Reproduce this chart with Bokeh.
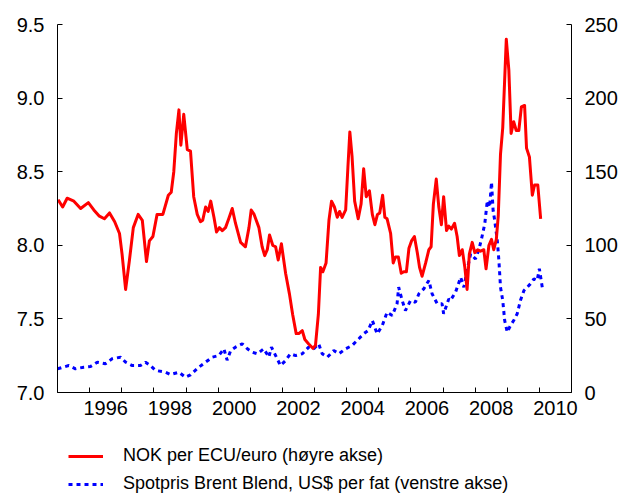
from bokeh.plotting import figure
from bokeh.models import (Range1d, LinearAxis, FixedTicker, Legend, LegendItem,
                          NumeralTickFormatter)
from bokeh.layouts import column
from bokeh.embed import file_html
from bokeh.resources import INLINE

# NOK per ECU/euro (plotted on left axis scale 7.0-9.5)
nok_t = [1995.02, 1995.16, 1995.30, 1995.51, 1995.72, 1995.96, 1996.13, 1996.29, 1996.46, 1996.62,
         1996.78, 1996.93, 1997.01, 1997.12, 1997.24, 1997.36, 1997.51, 1997.64, 1997.77, 1997.86,
         1997.97, 1998.10, 1998.28, 1998.45, 1998.54, 1998.62, 1998.70, 1998.78, 1998.84, 1998.93,
         1999.04, 1999.14, 1999.24, 1999.35, 1999.45, 1999.52, 1999.61, 1999.69, 1999.77, 1999.87,
         1999.95, 2000.04, 2000.13, 2000.23, 2000.33, 2000.44, 2000.54, 2000.70, 2000.85, 2000.96,
         2001.03, 2001.12, 2001.27, 2001.37, 2001.45, 2001.53, 2001.60, 2001.70, 2001.79, 2001.87,
         2001.97, 2002.10, 2002.22, 2002.32, 2002.43, 2002.51, 2002.62, 2002.70, 2002.82, 2002.95,
         2003.03, 2003.12, 2003.19, 2003.26, 2003.36, 2003.45, 2003.53, 2003.62, 2003.71, 2003.78,
         2003.86, 2003.97, 2004.04, 2004.10, 2004.17, 2004.25, 2004.36, 2004.45, 2004.53, 2004.61,
         2004.71, 2004.80, 2004.88, 2004.96, 2005.03, 2005.12, 2005.19, 2005.26, 2005.37, 2005.45,
         2005.52, 2005.61, 2005.70, 2005.78, 2005.86, 2005.94, 2006.02, 2006.11, 2006.20, 2006.27,
         2006.35, 2006.46, 2006.56, 2006.63, 2006.70, 2006.79, 2006.87, 2006.95, 2007.02, 2007.11,
         2007.18, 2007.26, 2007.36, 2007.44, 2007.51, 2007.60, 2007.68, 2007.75, 2007.82, 2007.91,
         2007.99, 2008.08, 2008.17, 2008.27, 2008.34, 2008.43, 2008.51, 2008.58, 2008.66, 2008.72,
         2008.79, 2008.86, 2008.97, 2009.05, 2009.12, 2009.20, 2009.28, 2009.36, 2009.44, 2009.54,
         2009.60, 2009.69, 2009.78, 2009.85, 2009.95, 2010.04]
nok_v = [8.31, 8.26, 8.32, 8.30, 8.25, 8.29, 8.24, 8.20, 8.18, 8.22,
         8.16, 8.08, 7.94, 7.70, 7.90, 8.12, 8.21, 8.17, 7.89, 8.03,
         8.06, 8.21, 8.21, 8.34, 8.36, 8.50, 8.76, 8.92, 8.68, 8.89,
         8.65, 8.64, 8.33, 8.21, 8.16, 8.17, 8.26, 8.23, 8.30, 8.19,
         8.09, 8.12, 8.10, 8.12, 8.18, 8.25, 8.15, 8.02, 7.99, 8.12,
         8.24, 8.21, 8.12, 7.99, 7.93, 7.97, 8.07, 8.00, 7.99, 7.90,
         8.01, 7.81, 7.67, 7.53, 7.40, 7.40, 7.42, 7.36, 7.33, 7.30,
         7.32, 7.53, 7.85, 7.82, 7.88, 8.17, 8.30, 8.26, 8.19, 8.23,
         8.19, 8.24, 8.53, 8.77, 8.60, 8.30, 8.18, 8.28, 8.52, 8.33,
         8.37, 8.21, 8.14, 8.21, 8.22, 8.34, 8.19, 8.18, 8.08, 7.88,
         7.92, 7.92, 7.81, 7.82, 7.82, 7.98, 8.03, 8.06, 7.95, 7.85,
         7.79, 7.88, 7.97, 7.99, 8.28, 8.45, 8.26, 8.14, 8.33, 8.10,
         8.13, 8.11, 8.15, 8.06, 7.93, 7.97, 7.85, 7.70, 7.94, 8.02,
         7.95, 7.97, 7.96, 7.97, 7.84, 8.00, 8.04, 7.97, 8.04, 8.20,
         8.62, 8.80, 9.40, 9.19, 8.76, 8.84, 8.78, 8.78, 8.94, 8.95,
         8.66, 8.60, 8.34, 8.41, 8.41, 8.18]

# Spot price Brent Blend, USD per barrel (plotted on right axis scale 0-250)
oil_t = [1995.00, 1995.35, 1995.56, 1995.82, 1996.03, 1996.24, 1996.49, 1996.70, 1996.96, 1997.12,
         1997.33, 1997.58, 1997.74, 1997.89, 1998.05, 1998.36, 1998.52, 1998.78, 1998.98, 1999.14,
         1999.40, 1999.61, 1999.82, 2000.02, 2000.18, 2000.28, 2000.39, 2000.54, 2000.75, 2000.91,
         2001.06, 2001.22, 2001.42, 2001.58, 2001.66, 2001.79, 2001.94, 2002.10, 2002.25, 2002.41,
         2002.62, 2002.82, 2002.98, 2003.13, 2003.24, 2003.40, 2003.60, 2003.76, 2003.97, 2004.17,
         2004.38, 2004.53, 2004.67, 2004.80, 2004.95, 2005.11, 2005.26, 2005.42, 2005.57, 2005.62,
         2005.73, 2005.83, 2005.99, 2006.14, 2006.25, 2006.40, 2006.56, 2006.66, 2006.82, 2006.97,
         2007.02, 2007.18, 2007.23, 2007.39, 2007.55, 2007.65, 2007.75, 2007.86, 2008.01, 2008.11,
         2008.20, 2008.30, 2008.38, 2008.45, 2008.51, 2008.56, 2008.61, 2008.69, 2008.74, 2008.79,
         2008.86, 2008.92, 2009.00, 2009.10, 2009.20, 2009.31, 2009.41, 2009.52, 2009.62, 2009.72,
         2009.83, 2009.93, 2010.00, 2010.09]
oil_v = [16.1, 18.3, 16.1, 17.2, 17.7, 20.6, 19.5, 22.9, 24.0, 20.6,
         18.3, 18.3, 20.6, 18.3, 15.0, 13.8, 12.2, 13.8, 10.4, 12.0,
         17.2, 20.6, 24.0, 25.1, 29.7, 22.0, 28.5, 30.8, 33.1, 29.7,
         27.4, 26.3, 29.7, 24.0, 30.8, 25.1, 18.3, 21.7, 26.3, 25.1,
         26.3, 30.8, 29.7, 33.1, 26.3, 24.0, 28.5, 26.3, 29.7, 31.9,
         36.5, 39.9, 42.1, 48.9, 39.9, 45.5, 54.6, 52.3, 60.3, 71.5,
         62.5, 55.7, 62.5, 61.3, 67.1, 70.4, 76.1, 67.1, 60.3, 60.3,
         53.5, 63.6, 62.5, 68.1, 78.3, 71.5, 82.9, 94.2, 90.8, 96.5,
         104.4, 114.6, 130.4, 125.9, 142.9, 123.6, 116.8, 103.3, 89.7, 71.5,
         62.5, 48.9, 41.0, 45.5, 48.9, 53.5, 62.5, 69.3, 71.5, 73.8,
         77.2, 76.1, 84.0, 71.5]

year_ticks = list(range(1995, 2012))
label_years = [1996, 1998, 2000, 2002, 2004, 2006, 2008, 2010]
left_ticks = [7.0, 7.5, 8.0, 8.5, 9.0, 9.5]
right_ticks = [0, 50, 100, 150, 200, 250]

legend_nok = "NOK per ECU/euro (høyre akse)"
legend_oil = "Spotpris Brent Blend, US$ per fat (venstre akse)"

FONT = "Liberation Sans"
RED = "#FF0000"
BLUE = "#0000FF"
OIL_DASH = "4 4"

p = figure(width=627, height=420, output_backend="svg", toolbar_location=None,
           x_range=Range1d(1995, 2011), y_range=Range1d(7.0, 9.5),
           min_border_left=57, min_border_right=56, min_border_top=24,
           min_border_bottom=28, x_axis_type=None, y_axis_type=None)
p.outline_line_color = None
p.xgrid.visible = False
p.ygrid.visible = False

p.extra_y_ranges = {"oil": Range1d(0, 250)}

p.line(oil_t, oil_v, y_range_name="oil", line_color=BLUE, line_width=3, line_dash=OIL_DASH)
p.line(nok_t, nok_v, line_color=RED, line_width=3, line_join="round")


def style(ax, standoff):
    ax.axis_line_color = "black"
    ax.axis_line_width = 1
    ax.major_tick_line_color = "black"
    ax.major_tick_in = 5
    ax.major_tick_out = 0
    ax.minor_tick_line_color = None
    ax.major_label_text_font = FONT
    ax.major_label_text_font_size = "20px"
    ax.major_label_text_color = "black"
    ax.major_label_standoff = standoff


xax = LinearAxis(ticker=FixedTicker(ticks=[y + 0.5 for y in label_years],
                                    minor_ticks=year_ticks))
style(xax, 8)
xax.major_tick_in = 0
xax.major_tick_out = 0
xax.minor_tick_line_color = "black"
xax.minor_tick_in = 5
xax.minor_tick_out = 0
xax.major_label_overrides = {y + 0.5: str(y) for y in label_years}
p.add_layout(xax, "below")

lax = LinearAxis(ticker=FixedTicker(ticks=left_ticks),
                 formatter=NumeralTickFormatter(format="0.0"))
style(lax, 13)
p.add_layout(lax, "left")

rax = LinearAxis(y_range_name="oil", ticker=FixedTicker(ticks=right_ticks))
style(rax, 13)
p.add_layout(rax, "right")

# legend panel underneath the chart (same series, drawn out of view; only the legend shows)
q = figure(width=627, height=73, output_backend="svg", toolbar_location=None,
           x_range=Range1d(0, 1), y_range=Range1d(0, 1),
           min_border_left=57, min_border_right=56, min_border_top=14,
           min_border_bottom=0, x_axis_type=None, y_axis_type=None)
q.outline_line_color = None
q.xgrid.visible = False
q.ygrid.visible = False
l_nok = q.line(nok_t, nok_v, line_color=RED, line_width=3)
l_oil = q.line(oil_t, oil_v, line_color=BLUE, line_width=3, line_dash=OIL_DASH)

legend = Legend(items=[LegendItem(label=legend_nok, renderers=[l_nok]),
                       LegendItem(label=legend_oil, renderers=[l_oil])],
                location="top_left")
legend.border_line_color = None
legend.background_fill_alpha = 0
legend.padding = 0
legend.margin = 11
legend.spacing = 7
legend.glyph_width = 35
legend.glyph_height = 20
legend.label_height = 20
legend.label_standoff = 20
legend.label_text_font = FONT
legend.label_text_font_size = "18px"
legend.label_text_color = "black"
q.add_layout(legend, "center")

page = column(p, q, spacing=0)
open("out.html", "w").write(file_html(page, INLINE))
